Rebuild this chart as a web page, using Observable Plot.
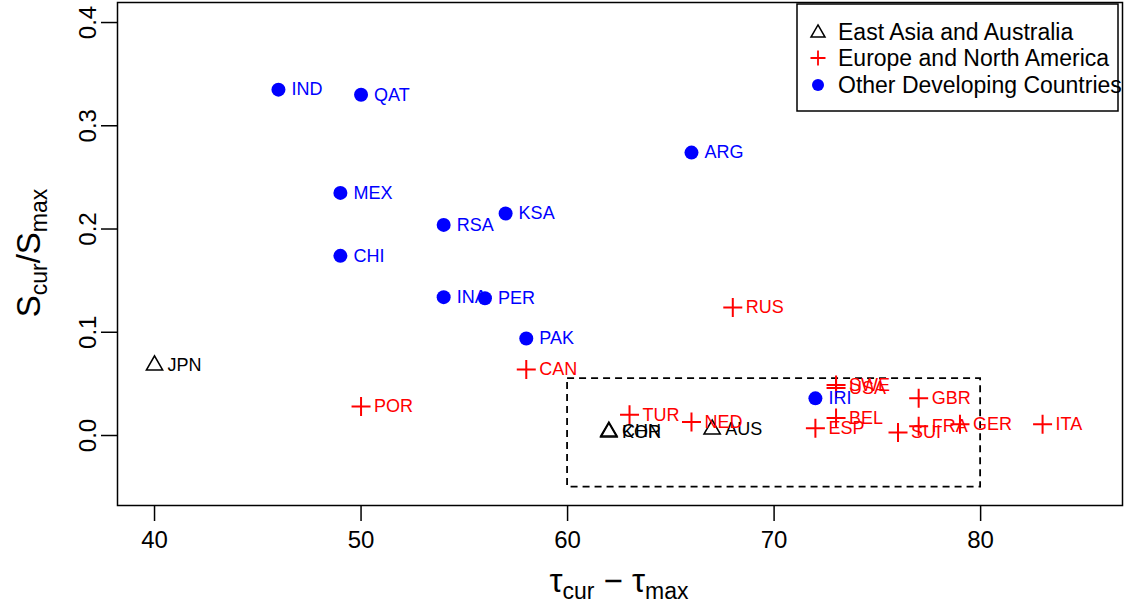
<!DOCTYPE html>
<html><head><meta charset="utf-8">
<script src="https://cdn.jsdelivr.net/npm/d3@7"></script>
<script src="https://cdn.jsdelivr.net/npm/@observablehq/plot@0.6"></script>
<style>
html,body{margin:0;padding:0;background:#fff;}
svg{display:block;font-family:"Liberation Sans",Arial,Helvetica,sans-serif;}
</style></head><body><div id="chart"></div>
<script>
// ---- data ----
const codes  = ["IND","QAT","ARG","MEX","KSA","RSA","CHI","INA","PER","PAK","IRI",
                "JPN","CHN","KOR","AUS",
                "RUS","CAN","POR","TUR","NED","SWE","USA","ESP","BEL","GBR","SUI","FRA","GER","ITA"];
const tau    = [46,50,66,49,57,54,49,54,56,58,72,
                40,62,62,67,
                68,58,50,63,66,73,73,72,73,77,76,77,79,83];
const share  = [0.335,0.330,0.274,0.235,0.215,0.204,0.174,0.134,0.133,0.094,0.036,
                0.068,0.004,0.003,0.006,
                0.124,0.064,0.028,0.020,0.013,0.049,0.046,0.007,0.017,0.036,0.003,0.009,0.011,0.011];
const region = ["Other Developing Countries","Other Developing Countries","Other Developing Countries","Other Developing Countries","Other Developing Countries","Other Developing Countries","Other Developing Countries","Other Developing Countries","Other Developing Countries","Other Developing Countries","Other Developing Countries",
                "East Asia and Australia","East Asia and Australia","East Asia and Australia","East Asia and Australia",
                "Europe and North America","Europe and North America","Europe and North America","Europe and North America","Europe and North America","Europe and North America","Europe and North America","Europe and North America","Europe and North America","Europe and North America","Europe and North America","Europe and North America","Europe and North America","Europe and North America"];
const regionNames  = ["East Asia and Australia","Europe and North America","Other Developing Countries"];
const regionColors = ["#000000","#FF0000","#0000FF"];
const xTicks = [40,50,60,70,80];
const yTicks = [0,0.1,0.2,0.3,0.4];
const boxX = [60,80];
const boxY = [-0.05,0.055];

const data = codes.map((c,i)=>({code:c, x:tau[i], y:share[i], region:region[i]}));
const byRegion = r => data.filter(d=>d.region===r);

const cross = {draw(ctx,size){const r=Math.sqrt(size/Math.PI);ctx.moveTo(-r,0);ctx.lineTo(r,0);ctx.moveTo(0,-r);ctx.lineTo(0,r);}};

const labelMarks = regionNames.map((r,i)=>Plot.text(byRegion(r),{x:"x",y:"y",text:"code",dx:13,textAnchor:"start",fill:regionColors[i],fontSize:18}));

const chart = Plot.plot({
  width:1124, height:607,
  marginLeft:117, marginRight:2, marginTop:2, marginBottom:102,
  x:{domain:[38.207,86.87], label:null},
  y:{domain:[-0.0678,0.4194], label:null},
  style:{fontFamily:'"Liberation Sans",Arial,Helvetica,sans-serif', fontSize:"16px", background:"#fff", overflow:"visible"},
  marks:[
    Plot.rect([{x1:boxX[0],x2:boxX[1],y1:boxY[0],y2:boxY[1]}],{x1:"x1",x2:"x2",y1:"y1",y2:"y2",fill:"none",stroke:"#000",strokeWidth:1.8,strokeDasharray:"7,5"}),
    Plot.dot(byRegion(regionNames[2]),{x:"x",y:"y",r:7,fill:regionColors[2]}),
    Plot.dot(byRegion(regionNames[0]),{x:"x",y:"y",r:6,symbol:"triangle",fill:"none",stroke:regionColors[0],strokeWidth:1.6}),
    Plot.dot(byRegion(regionNames[1]),{x:"x",y:"y",r:9.5,symbol:cross,fill:"none",stroke:regionColors[1],strokeWidth:2}),
    ...labelMarks,
    Plot.axisX({ticks:xTicks, tickSize:16, tickPadding:9, fontSize:24, tickFormat:d=>String(d), strokeWidth:1.5, label:null}),
    Plot.axisY({ticks:yTicks, tickSize:16, tickPadding:6, tickRotate:-90, fontSize:24, tickFormat:d3.format(".1f"), strokeWidth:1.5, label:null}),
    Plot.frame({stroke:"#000", strokeWidth:1.5})
  ]
});

const svg = d3.select(chart);
// x title
const xt = svg.append("text").attr("x",619).attr("y",592).attr("text-anchor","middle").attr("fill","#000").style("font-size","33px");
xt.append("tspan").text("τ");
xt.append("tspan").attr("dy",7).style("font-size","23px").text("cur");
xt.append("tspan").attr("dy",-7).text(" − τ");
xt.append("tspan").attr("dy",7).style("font-size","23px").text("max");
// y title
const yt = svg.append("text").attr("transform","translate(40,253) rotate(-90)").attr("text-anchor","middle").attr("fill","#000").style("font-size","33px");
yt.append("tspan").text("S");
yt.append("tspan").attr("dy",7).style("font-size","23px").text("cur");
yt.append("tspan").attr("dy",-7).text("/S");
yt.append("tspan").attr("dy",7).style("font-size","23px").text("max");
// legend
const lg = svg.append("g");
lg.append("rect").attr("x",797).attr("y",4).attr("width",321).attr("height",107).attr("fill","none").attr("stroke","#000").attr("stroke-width",1.5);
const rowsY = [32,58,85];
lg.append("path").attr("transform",`translate(818,${rowsY[0]+1})`).attr("d",d3.symbol(d3.symbolTriangle,85)()).attr("fill","none").attr("stroke","#000").attr("stroke-width",1.5);
lg.append("path").attr("transform",`translate(818,${rowsY[1]})`).attr("d","M-7.5,0H7.5M0,-7.5V7.5").attr("stroke","#FF0000").attr("stroke-width",1.8);
lg.append("circle").attr("cx",818).attr("cy",rowsY[2]).attr("r",6).attr("fill","#0000FF");
regionNames.forEach((n,i)=>{
  lg.append("text").attr("x",838).attr("y",rowsY[i]).attr("dy","0.36em").attr("text-anchor","start").attr("fill","#000").style("font-size","23px").text(n);
});
document.getElementById("chart").appendChild(chart);
</script></body></html>
